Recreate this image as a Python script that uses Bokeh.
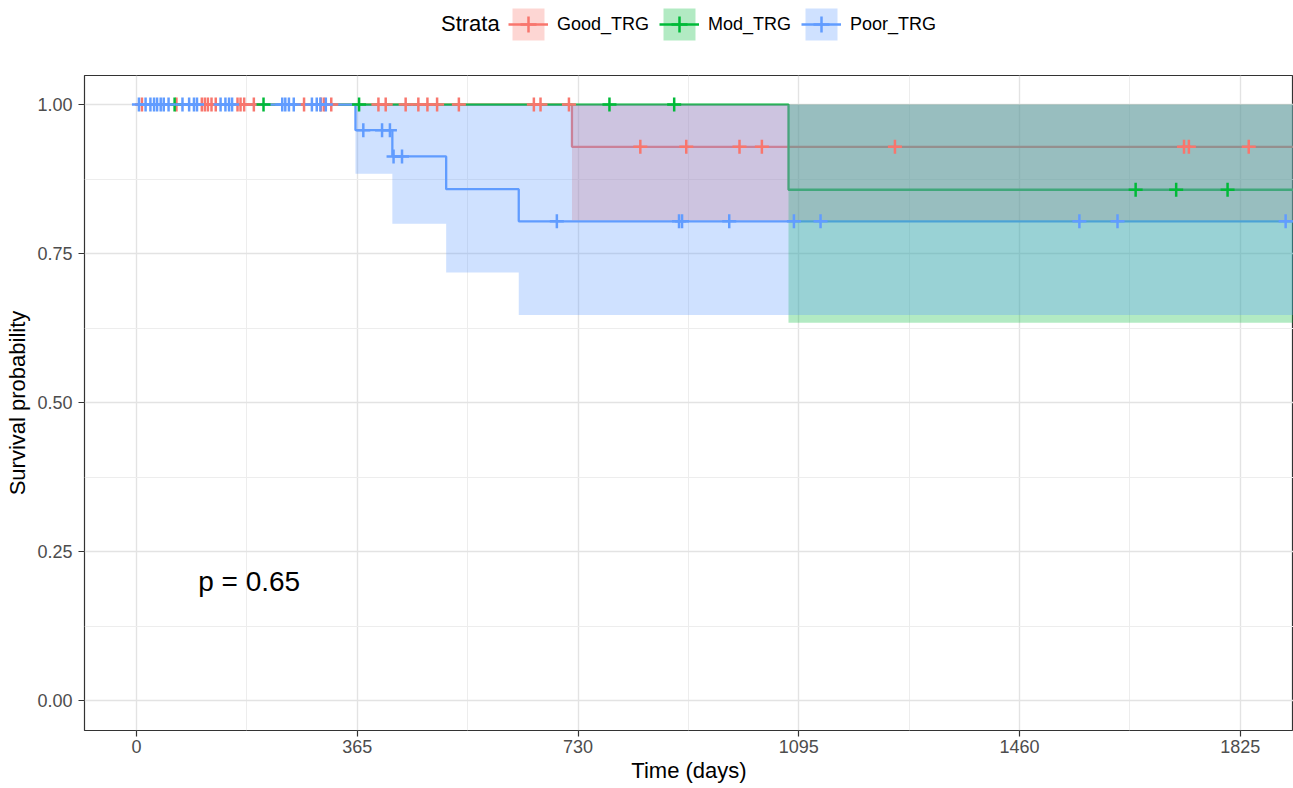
from bokeh.plotting import figure
from bokeh.models import FixedTicker, PrintfTickFormatter, Legend, LegendItem, Range1d
from bokeh.layouts import column
from bokeh.embed import file_html
from bokeh.resources import INLINE
from bokeh.core.properties import value

FONT = "Liberation Sans"

# ---------------- data ----------------
strata = ["Good_TRG", "Mod_TRG", "Poor_TRG"]
colors = ["#F8766D", "#00BA38", "#619CFF"]

# Kaplan-Meier step curves (time in days, survival probability)
good_time = [0, 720, 1950]
good_surv = [1.0, 0.929, 0.929]
mod_time = [0, 1078, 1950]
mod_surv = [1.0, 0.857, 0.857]
poor_time = [0, 362, 423, 512, 632, 1950]
poor_surv = [1.0, 0.957, 0.913, 0.858, 0.804, 0.804]

# confidence bands (step, upper bound capped at 1)
good_ci_time = [720, 1950]
good_ci_low = [0.806, 0.806]
good_ci_up = [1.0, 1.0]
mod_ci_time = [1078, 1950]
mod_ci_low = [0.634, 0.634]
mod_ci_up = [1.0, 1.0]
poor_ci_time = [362, 423, 512, 632, 1950]
poor_ci_low = [0.884, 0.800, 0.718, 0.647, 0.647]
poor_ci_up = [1.0, 1.0, 1.0, 1.0, 1.0]

# censoring times
good_cens = [9, 66, 108, 113, 118, 124, 131, 167, 172, 178, 194, 277, 305, 310, 322,
             400, 412, 445, 466, 481, 497, 533, 657, 668, 715,
             833, 909, 997, 1034, 1254, 1732, 1740, 1839]
mod_cens = [63, 210, 368, 782, 889, 1652, 1719, 1804]
poor_cens = [4, 15, 23, 29, 34, 40, 45, 53, 76, 87, 95, 100, 139, 147, 153, 158,
             241, 246, 252, 260, 290, 298, 304, 313,
             375, 406, 419, 425, 439,
             695, 897, 902, 980, 1087, 1131, 1559, 1622, 1900]

x_ticks = [0, 365, 730, 1095, 1460, 1825]
x_minor = [-182.5, 182.5, 547.5, 912.5, 1277.5, 1642.5, 2007.5]
y_ticks = [0.0, 0.25, 0.50, 0.75, 1.0]
y_minor = [0.125, 0.375, 0.625, 0.875]

pval_text = "p = 0.65"
pval_x = 102
pval_y = 0.2

x_title = "Time (days)"
y_title = "Survival probability"
legend_title = "Strata"


def surv_at(times, survs, t):
    s = survs[0]
    for tt, ss in zip(times, survs):
        if tt <= t:
            s = ss
    return s


curves = [(good_time, good_surv), (mod_time, mod_surv), (poor_time, poor_surv)]
bands = [(good_ci_time, good_ci_low, good_ci_up), (mod_ci_time, mod_ci_low, mod_ci_up),
         (poor_ci_time, poor_ci_low, poor_ci_up)]
cens = [good_cens, mod_cens, poor_cens]


def draw_series(fig):
    line_r, band_r, cens_r = [], [], []
    for (t, s), c in zip(curves, colors):
        line_r.append(fig.step(t, s, mode="after", line_color=c, line_width=2.3))
    for (t, lo, up), c in zip(bands, colors):
        band_r.append(fig.varea_step(x=t, y1=lo, y2=up, step_mode="after",
                                     fill_color=c, fill_alpha=0.3))
    for (t, s), cs, c in zip(curves, cens, colors):
        ys = [surv_at(t, s, x) for x in cs]
        cens_r.append(fig.scatter(cs, ys, marker="cross", size=14, line_color=c,
                                  line_width=2.5))
    return line_r, band_r, cens_r


# ---------------- legend strip (top) ----------------
# The series are drawn again here only to feed the legend keys; the strip's
# y range lies far above the data, so they stay out of view.
TOP_H = 74
lg = figure(width=1293, height=TOP_H, output_backend="svg", toolbar_location=None,
            x_range=Range1d(0, 1), y_range=Range1d(100, 200),
            min_border_left=0, min_border_right=0, min_border_top=0, min_border_bottom=0,
            outline_line_color=None, background_fill_color="white",
            border_fill_color="white")
lg.axis.visible = False
lg.grid.visible = False
lg_line, lg_band, lg_cens = draw_series(lg)

title_r = lg.step(good_time, good_surv, line_alpha=0)
title_legend = Legend(items=[LegendItem(label=legend_title, renderers=[title_r])],
                      orientation="horizontal", location=(357, 30),
                      label_text_font=FONT, label_text_font_size="22px",
                      label_text_color="black", glyph_width=0, glyph_height=40,
                      label_standoff=0, padding=0, margin=0,
                      background_fill_alpha=0, border_line_color=None)
lg.add_layout(title_legend)

items = [LegendItem(label=name, renderers=[b, l, s])
         for name, b, l, s in zip(strata, lg_band, lg_line, lg_cens)]
legend = Legend(items=items, orientation="horizontal", location=(424, 30),
                label_text_font=FONT, label_text_font_size="18px",
                label_text_color="black",
                glyph_width=40, glyph_height=40, label_standoff=9, spacing=10,
                padding=0, margin=0, background_fill_alpha=0, border_line_color=None)
lg.add_layout(legend)

# ---------------- main panel ----------------
p = figure(width=1293, height=788 - TOP_H, output_backend="svg", toolbar_location=None,
           x_range=Range1d(-86, 1913), y_range=Range1d(-0.0503, 1.0487),
           min_border_left=84, min_border_right=0, min_border_top=1, min_border_bottom=58,
           background_fill_color="white", border_fill_color="white")

p.outline_line_color = "#333333"
p.outline_line_width = 1.2

draw_series(p)

p.text(x=[pval_x], y=[pval_y], text=[pval_text], text_font=value(FONT),
       text_font_size=value("28px"), text_baseline="middle", text_align="left",
       text_color="black")

p.xaxis.ticker = FixedTicker(ticks=x_ticks, minor_ticks=x_minor)
p.yaxis.ticker = FixedTicker(ticks=y_ticks, minor_ticks=y_minor)
p.xaxis.formatter = PrintfTickFormatter(format="%d")
p.yaxis.formatter = PrintfTickFormatter(format="%.2f")
for ax in (p.xaxis, p.yaxis):
    ax.axis_line_color = None
    ax.minor_tick_line_color = None
    ax.major_tick_in = 0
    ax.major_tick_out = 6
    ax.major_tick_line_color = "#333333"
    ax.major_tick_line_width = 1.2
    ax.major_label_text_font = FONT
    ax.major_label_text_font_size = "18px"
    ax.major_label_text_color = "#4D4D4D"
    ax.axis_label_text_font = FONT
    ax.axis_label_text_font_size = "22px"
    ax.axis_label_text_font_style = "normal"
    ax.axis_label_text_color = "black"
p.xaxis.axis_label = x_title
p.yaxis.axis_label = y_title
p.xaxis.major_label_standoff = 3
p.xaxis.axis_label_standoff = 2
p.yaxis.major_label_standoff = 6
p.yaxis.axis_label_standoff = 4

p.xgrid.grid_line_color = "#E3E3E3"
p.ygrid.grid_line_color = "#E3E3E3"
p.xgrid.grid_line_width = 1.4
p.ygrid.grid_line_width = 1.4
p.xgrid.minor_grid_line_color = "#EDEDED"
p.ygrid.minor_grid_line_color = "#EDEDED"
p.xgrid.minor_grid_line_width = 1
p.ygrid.minor_grid_line_width = 1

layout = column(lg, p, spacing=0)
open("out.html", "w").write(file_html(layout, INLINE))
